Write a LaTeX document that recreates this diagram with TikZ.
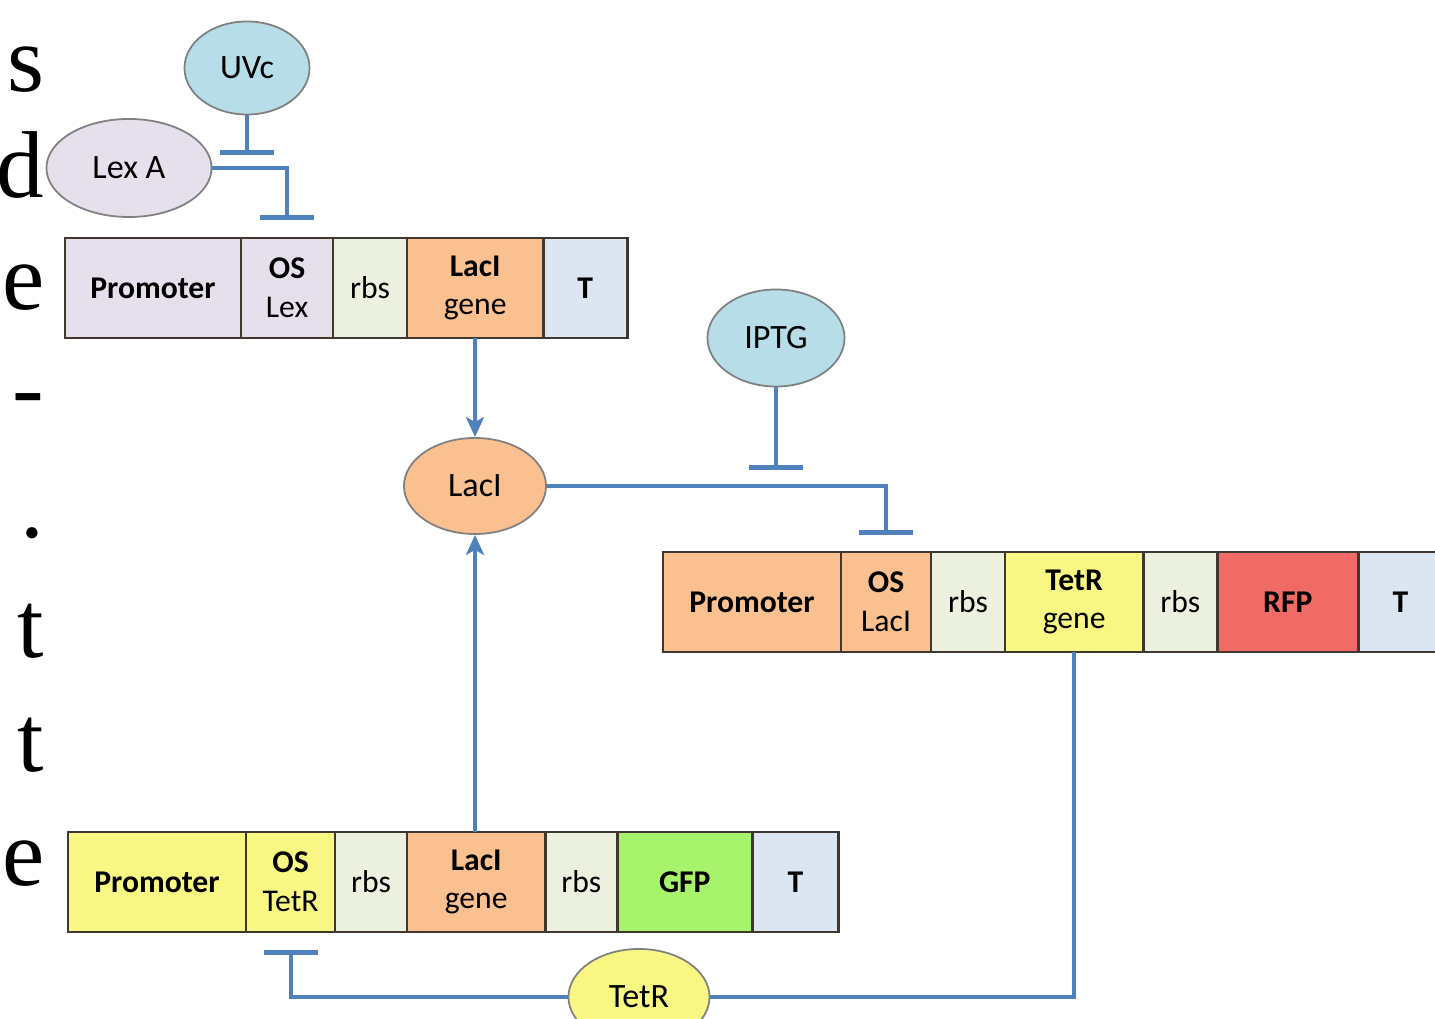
\documentclass[tikz,border=0pt]{standalone}
\usepackage{fontspec}
\setmainfont{Carlito}
\newfontfamily\pagefont{Liberation Serif}
\usetikzlibrary{positioning,shapes.geometric,arrows.meta}

\definecolor{lexcol}{HTML}{E5E0EC}
\definecolor{rbscol}{HTML}{EBF1DE}
\definecolor{laccol}{HTML}{FAC090}
\definecolor{termcol}{HTML}{DCE6F2}
\definecolor{sigcol}{HTML}{B7DDE8}
\definecolor{tetcol}{HTML}{F9F783}
\definecolor{rfpcol}{HTML}{F06A66}
\definecolor{gfpcol}{HTML}{A7F36C}
\definecolor{wire}{HTML}{4F81BD}
\definecolor{edge}{HTML}{3F382E}

\tikzset{
  part/.style={draw=edge, line width=0.75pt, minimum height=1cm, inner sep=0pt,
    outer sep=0pt, align=center, font=\fontsize{9}{11}\selectfont},
  mol/.style={ellipse, draw=gray, line width=0.5pt, inner sep=0pt,
    font=\fontsize{9.7}{11}\selectfont},
  link/.style={draw=wire, line width=1.15pt},
  act/.style={link, -{Stealth[length=0.2cm, width=0.18cm, inset=0.05cm]}},
  inhib/.style={link, -{Bar[width=0.54cm, line width=0.4pt 1]}}
}

\begin{document}
\begin{tikzpicture}[x=0.01cm, y=-0.01cm]
            \clip (0,0) rectangle (1435,1019);
            \fill[white] (0,0) rectangle (1435,1019);

            % letters of the page text, cut at the left edge
            \foreach \ch/\yy [count=\i] in {s/92, d/198, e/310, -/420, ./538, t/658, t/772, e/886}
                \node[anchor=base east, inner sep=0pt, font=\pagefont\fontsize{27}{27}\selectfont]
                    (pg\i) at (45,\yy) {\ch};

            % LexA construct
            \node[part, fill=lexcol, minimum width=1.76cm] (lexprom) at (153,288) {\textbf{Promoter}};
            \node[part, fill=lexcol, minimum width=0.92cm, right=0pt of lexprom] (oslex) {\textbf{OS}\\Lex};
            \node[part, fill=rbscol, minimum width=0.74cm, right=0pt of oslex] (rbsA) {rbs};
            \node[part, fill=laccol, minimum width=1.36cm, right=0pt of rbsA] (lacgeneA) {\textbf{LacI}\\gene};
            \node[part, fill=termcol, minimum width=0.84cm, right=0pt of lacgeneA] (termA) {\textbf{T}};

            % LacI construct
            \node[part, fill=laccol, minimum width=1.78cm] (lacprom) at (752,602) {\textbf{Promoter}};
            \node[part, fill=laccol, minimum width=0.90cm, right=0pt of lacprom] (oslac) {\textbf{OS}\\LacI};
            \node[part, fill=rbscol, minimum width=0.74cm, right=0pt of oslac] (rbsB) {rbs};
            \node[part, fill=tetcol, minimum width=1.38cm, right=0pt of rbsB] (tetgene) {\textbf{TetR}\\gene};
            \node[part, fill=rbscol, minimum width=0.74cm, right=0pt of tetgene] (rbsC) {rbs};
            \node[part, fill=rfpcol, minimum width=1.41cm, right=0pt of rbsC] (rfp) {\textbf{RFP}};
            \node[part, fill=termcol, minimum width=0.84cm, right=0pt of rfp] (termB) {\textbf{T}};

            % TetR construct
            \node[part, fill=tetcol, minimum width=1.78cm] (tetprom) at (157,882) {\textbf{Promoter}};
            \node[part, fill=tetcol, minimum width=0.89cm, right=0pt of tetprom] (ostet) {\textbf{OS}\\TetR};
            \node[part, fill=rbscol, minimum width=0.72cm, right=0pt of ostet] (rbsD) {rbs};
            \node[part, fill=laccol, minimum width=1.38cm, right=0pt of rbsD] (lacgeneB) {\textbf{LacI}\\gene};
            \node[part, fill=rbscol, minimum width=0.72cm, right=0pt of lacgeneB] (rbsE) {rbs};
            \node[part, fill=gfpcol, minimum width=1.35cm, right=0pt of rbsE] (gfp) {\textbf{GFP}};
            \node[part, fill=termcol, minimum width=0.86cm, right=0pt of gfp] (termC) {\textbf{T}};

            % molecules
            \node[mol, fill=sigcol, minimum width=1.25cm, minimum height=0.93cm] (uvc) at (247,68) {UVc};
            \node[mol, fill=lexcol, minimum width=1.65cm, minimum height=0.98cm] (lexa) at (129,168) {Lex A};
            \node[mol, fill=sigcol, minimum width=1.37cm, minimum height=0.97cm] (iptg) at (776,338) {IPTG};
            \node[mol, fill=laccol, minimum width=1.42cm, minimum height=0.96cm] (laci) at (475,486) {LacI};
            \node[mol, fill=tetcol, minimum width=1.41cm, minimum height=0.96cm] (tetr) at (639,997) {TetR};

            \coordinate (uvcbar) at (247,155);
            \coordinate (iptgbar) at (776,470);

            % regulation
            \draw[inhib] (uvc) -- (uvcbar);
            \draw[inhib] (lexa.east) -| ([yshift=0.18cm]oslex.north);
            \draw[act] (lacgeneA.south) -- (laci.north);
            \draw[inhib] (iptg) -- (iptgbar);
            \draw[inhib] (laci.east) -| ([yshift=0.17cm]oslac.north);
            \draw[act] (laci.south |- lacgeneB.north) -- (laci.south);
            \draw[link] (tetgene.south) |- (tetr.east);
            \draw[inhib] (tetr.west) -| ([yshift=-0.18cm]ostet.south);
        \end{tikzpicture}
\end{document}
